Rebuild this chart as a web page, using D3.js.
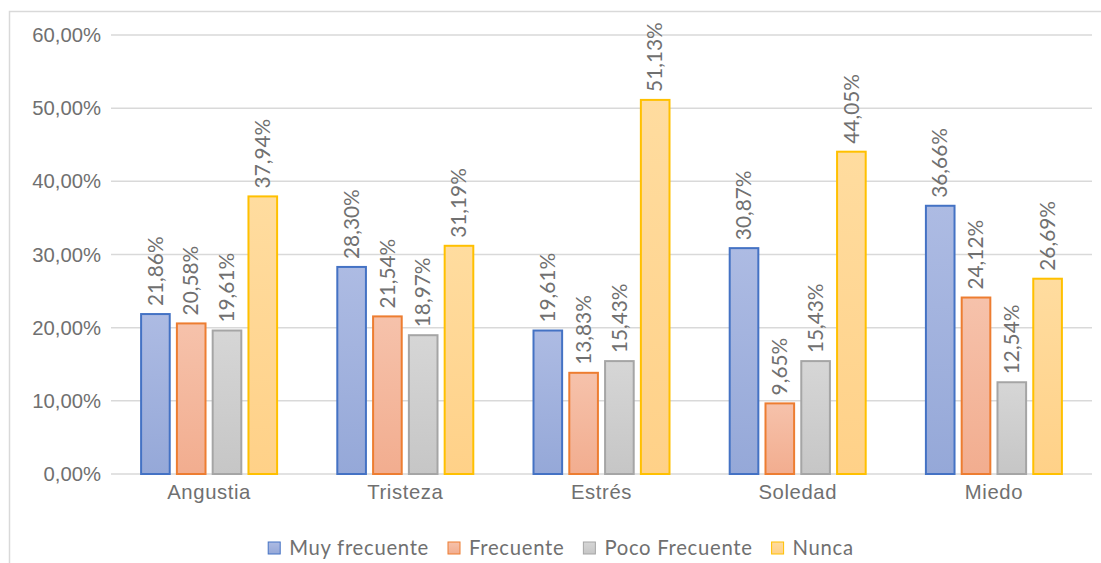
<!DOCTYPE html>
<html>
<head>
<meta charset="utf-8">
<script src="https://cdn.jsdelivr.net/npm/d3@7/dist/d3.min.js"></script>
<style>
  html, body { margin: 0; padding: 0; background: #fff; }
  svg { display: block; font-family: Lato, "Open Sans", sans-serif; }
</style>
</head>
<body>
<svg id="chart" width="1101" height="563"></svg>
<script>
// Emotional state frequencies by emotion (percent)
const categories = ["Angustia", "Tristeza", "Estrés", "Soledad", "Miedo"];
const seriesNames = ["Muy frecuente", "Frecuente", "Poco Frecuente", "Nunca"];
const muyFrecuente  = [21.86, 28.30, 19.61, 30.87, 36.66];
const frecuente     = [20.58, 21.54, 13.83,  9.65, 24.12];
const pocoFrecuente = [19.61, 18.97, 15.43, 15.43, 12.54];
const nunca         = [37.94, 31.19, 51.13, 44.05, 26.69];
const yTicks = [0, 10, 20, 30, 40, 50, 60];

const seriesValues = [muyFrecuente, frecuente, pocoFrecuente, nunca];
const strokes = ["#4472c4", "#ed7d31", "#a5a5a5", "#ffc000"];
const fillTop = ["#adbbe3", "#f6c2ab", "#d6d6d6", "#ffdc9f"];
const fillBot = ["#95a8d8", "#f2ad8f", "#c6c6c6", "#ffd188"];
const textColor = "#707070";

const svg = d3.select("#chart");
const fmt = v => v.toFixed(2).replace(".", ",") + "%";

// outer chart frame
svg.append("rect")
  .attr("x", 9.5).attr("y", 11.5)
  .attr("width", 1200).attr("height", 700)
  .attr("fill", "none").attr("stroke", "#d9d9d9").attr("stroke-width", 1.5);

const defs = svg.append("defs");
seriesNames.forEach((s, i) => {
  const g = defs.append("linearGradient").attr("id", "grad" + i)
    .attr("x1", 0).attr("y1", 0).attr("x2", 0).attr("y2", 1);
  g.append("stop").attr("offset", "0%").attr("stop-color", fillTop[i]);
  g.append("stop").attr("offset", "100%").attr("stop-color", fillBot[i]);
});

const plot = { left: 111, right: 1092, top: 35, bottom: 474 };

const x0 = d3.scaleBand().domain(categories).range([plot.left, plot.right]).padding(0);
const y = d3.scaleLinear().domain([0, 60]).range([plot.bottom, plot.top]);

// bars occupy the middle of each category band
const groupWidth = 136;
const x1 = d3.scaleBand().domain(seriesNames).range([0, groupWidth]).paddingInner(0.2).paddingOuter(0);

// gridlines
svg.append("g")
  .selectAll("line").data(yTicks).join("line")
  .attr("x1", plot.left).attr("x2", plot.right)
  .attr("y1", d => y(d)).attr("y2", d => y(d))
  .attr("stroke", "#d9d9d9").attr("stroke-width", 1.5);

// y axis labels
const yAxis = d3.axisLeft(y).tickValues(yTicks).tickSize(0).tickPadding(10)
  .tickFormat(d => d.toFixed(2).replace(".", ",") + "%");
svg.append("g").attr("transform", `translate(${plot.left},0)`).call(yAxis)
  .call(g => g.select(".domain").remove())
  .selectAll("text").attr("fill", textColor).attr("font-size", 20.3);

// x axis labels
const xAxis = d3.axisBottom(x0).tickSize(0).tickPadding(11);
svg.append("g").attr("transform", `translate(0,${plot.bottom})`).call(xAxis)
  .call(g => g.select(".domain").remove())
  .selectAll("text").attr("fill", textColor).attr("font-size", 20.3)
  .attr("letter-spacing", "0.6px");

// bars
const groups = svg.append("g").selectAll("g").data(categories).join("g")
  .attr("transform", d => `translate(${x0(d) + (x0.bandwidth() - groupWidth) / 2},0)`);

groups.each(function(cat, ci) {
  const g = d3.select(this);
  seriesNames.forEach((s, si) => {
    const v = seriesValues[si][ci];
    g.append("rect")
      .attr("x", x1(s)).attr("y", y(v))
      .attr("width", x1.bandwidth()).attr("height", y(0) - y(v))
      .attr("fill", `url(#grad${si})`)
      .attr("stroke", strokes[si]).attr("stroke-width", 2);
    const lx = x1(s) + x1.bandwidth() / 2;
    const ly = y(v) - 8;
    g.append("text")
      .attr("transform", `translate(${lx},${ly}) rotate(-90)`)
      .attr("dy", "0.35em")
      .attr("text-anchor", "start")
      .attr("fill", textColor).attr("font-size", 20.8)
      .text(fmt(v));
  });
});

// legend
const legend = svg.append("g").attr("transform", "translate(0,548)");
const legendItems = legend.selectAll("g").data(seriesNames).join("g");
legendItems.append("rect")
  .attr("y", -6).attr("width", 12).attr("height", 12)
  .attr("fill", (d, i) => `url(#grad${i})`)
  .attr("stroke", (d, i) => strokes[i]).attr("stroke-width", 1);
legendItems.append("text")
  .attr("x", 21).attr("dy", "0.35em")
  .attr("fill", textColor).attr("font-size", 20.3)
  .attr("letter-spacing", "0.7px")
  .text(d => d);
// lay out legend entries centred under the chart
const itemGap = 19;
let offs = [], total = 0;
legendItems.each(function() {
  const w = this.getBBox().width;
  offs.push(total);
  total += w + itemGap;
});
total -= itemGap;
const startX = 561 - total / 2;
legendItems.attr("transform", (d, i) => `translate(${startX + offs[i]},0)`);
</script>
</body>
</html>
